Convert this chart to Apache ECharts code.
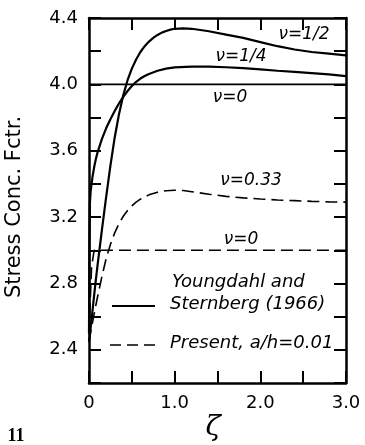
<!DOCTYPE html>
<html><head><meta charset="utf-8">
<script src="https://cdn.jsdelivr.net/npm/echarts@6/dist/echarts.min.js"></script>
<style>html,body{margin:0;padding:0;background:#fff}#c{width:365px;height:445px}</style>
</head><body><div id="c"></div>
<script>
// [ζ, stress concentration factor]
const nuHalfSolid = [[0,2.45],[0.025,2.56],[0.05,2.68],[0.075,2.80],[0.1,2.91],[0.15,3.12],[0.2,3.32],[0.25,3.51],[0.3,3.68],[0.35,3.82],[0.4,3.935],[0.45,4.025],[0.5,4.095],[0.55,4.15],[0.6,4.195],[0.65,4.23],[0.7,4.258],[0.75,4.28],[0.8,4.298],[0.85,4.312],[0.9,4.322],[0.95,4.33],[1.0,4.335],[1.1,4.338],[1.2,4.335],[1.4,4.32],[1.6,4.30],[1.8,4.28],[2.0,4.255],[2.2,4.23],[2.4,4.21],[2.6,4.195],[2.8,4.185],[3.0,4.175]];
const nuQuarterSolid = [[0,2.5],[0.004,3.0],[0.01,3.28],[0.02,3.36],[0.04,3.44],[0.06,3.50],[0.08,3.55],[0.1,3.59],[0.15,3.67],[0.2,3.735],[0.25,3.79],[0.3,3.84],[0.35,3.885],[0.4,3.925],[0.45,3.96],[0.5,3.99],[0.55,4.015],[0.6,4.035],[0.65,4.05],[0.7,4.063],[0.8,4.082],[0.9,4.095],[1.0,4.102],[1.2,4.107],[1.4,4.107],[1.6,4.103],[1.8,4.098],[2.0,4.09],[2.2,4.082],[2.4,4.075],[2.6,4.068],[2.8,4.06],[3.0,4.05]];
const nuZeroSolid = [[0,4.0],[3.0,4.0]];
const nu033Dashed = [[0,2.45],[0.05,2.59],[0.1,2.72],[0.15,2.84],[0.2,2.95],[0.25,3.035],[0.3,3.105],[0.35,3.16],[0.4,3.205],[0.45,3.24],[0.5,3.268],[0.55,3.29],[0.6,3.308],[0.65,3.322],[0.7,3.334],[0.8,3.35],[0.9,3.359],[1.0,3.362],[1.1,3.36],[1.2,3.353],[1.4,3.338],[1.6,3.325],[1.8,3.316],[2.0,3.309],[2.2,3.303],[2.4,3.299],[2.6,3.295],[2.8,3.292],[3.0,3.29]];
const nuZeroDashed = [[0,2.5],[0.03,2.9],[0.06,3.0],[3.0,3.0]];
const xTickLabels = ['0','1.0','2.0','3.0'];
const yTickLabels = ['2.4','2.8','3.2','3.6','4.0','4.4'];

const chart = echarts.init(document.getElementById('c'), null, {renderer:'canvas'});
const F = 'DejaVu Sans';
function ax(extra){
  return Object.assign({
    type:'value',
    axisLine:{show:true,onZero:false,lineStyle:{color:'#000',width:2.5}},
    axisTick:{show:true,inside:true,length:12,lineStyle:{color:'#000',width:2}},
    splitLine:{show:false}
  },extra);
}
function lineSeries(name,data,type,width){
  return {name,type:'line',data,showSymbol:false,smooth:false,
    lineStyle:{color:'#000',width,type},z:3,silent:true};
}
chart.setOption({
  backgroundColor:'#fff',
  animation:false,
  grid:{left:89,right:19,top:18,bottom:62},
  xAxis:[
    ax({min:0,max:3,interval:0.5,position:'bottom',
      axisLabel:{margin:11,fontFamily:F,fontSize:18,color:'#000',
        formatter:v=>{const i=Math.round(v*2);return i%2===0?xTickLabels[i/2]:'';}}}),
    ax({min:0,max:3,interval:0.5,position:'top',axisLabel:{show:false}})
  ],
  yAxis:[
    ax({min:2.2,max:4.4,interval:0.2,position:'left',
      axisLabel:{margin:11,fontFamily:F,fontSize:18,color:'#000',
        formatter:v=>{const i=Math.round(v*10);return (i%4===0)?yTickLabels[(i-24)/4]:'';}}}),
    ax({min:2.2,max:4.4,interval:0.2,position:'right',axisLabel:{show:false}})
  ],
  series:[
    lineSeries('ν=1/2',nuHalfSolid,'solid',2.2),
    lineSeries('ν=1/4',nuQuarterSolid,'solid',2.2),
    lineSeries('ν=0 (Youngdahl)',nuZeroSolid,'solid',1.8),
    lineSeries('ν=0.33',nu033Dashed,[12,6],1.6),
    lineSeries('ν=0 (Present)',nuZeroDashed,[12,6],1.6)
  ],
  graphic:[
    {type:'text',x:15,y:207,rotation:Math.PI/2,style:{text:'Stress Conc. Fctr.',font:'21px "DejaVu Sans"',fill:'#000',align:'center',verticalAlign:'middle'}},
    {type:'text',x:213,y:428,style:{text:'ζ',font:'italic 28px "DejaVu Serif"',fill:'#000',align:'center',verticalAlign:'middle'}},
    {type:'text',x:16,y:436,style:{text:'11',font:'bold 18px "Liberation Serif"',fill:'#000',align:'center',verticalAlign:'middle'}},
    {type:'text',x:304,y:35,style:{text:'ν=1/2',font:'italic 17px "DejaVu Sans"',fill:'#000',align:'center',verticalAlign:'middle'}},
    {type:'text',x:241,y:57,style:{text:'ν=1/4',font:'italic 17px "DejaVu Sans"',fill:'#000',align:'center',verticalAlign:'middle'}},
    {type:'text',x:230,y:98,style:{text:'ν=0',font:'italic 17px "DejaVu Sans"',fill:'#000',align:'center',verticalAlign:'middle'}},
    {type:'text',x:251,y:181,style:{text:'ν=0.33',font:'italic 17px "DejaVu Sans"',fill:'#000',align:'center',verticalAlign:'middle'}},
    {type:'text',x:241,y:240,style:{text:'ν=0',font:'italic 17px "DejaVu Sans"',fill:'#000',align:'center',verticalAlign:'middle'}},
    {type:'text',x:172,y:282,style:{text:'Youngdahl and',font:'italic 18px "DejaVu Sans"',fill:'#000',align:'left',verticalAlign:'middle'}},
    {type:'text',x:170,y:304,style:{text:'Sternberg (1966)',font:'italic 18px "DejaVu Sans"',fill:'#000',align:'left',verticalAlign:'middle'}},
    {type:'text',x:170,y:343,style:{text:'Present, a/h=0.01',font:'italic 18px "DejaVu Sans"',fill:'#000',align:'left',verticalAlign:'middle'}},
    {type:'line',shape:{x1:112,y1:306,x2:155,y2:306},style:{stroke:'#000',lineWidth:2}},
    {type:'line',shape:{x1:110,y1:345,x2:157,y2:345},style:{stroke:'#000',lineWidth:1.6,lineDash:[11,6]}}
  ]
});
</script></body></html>
